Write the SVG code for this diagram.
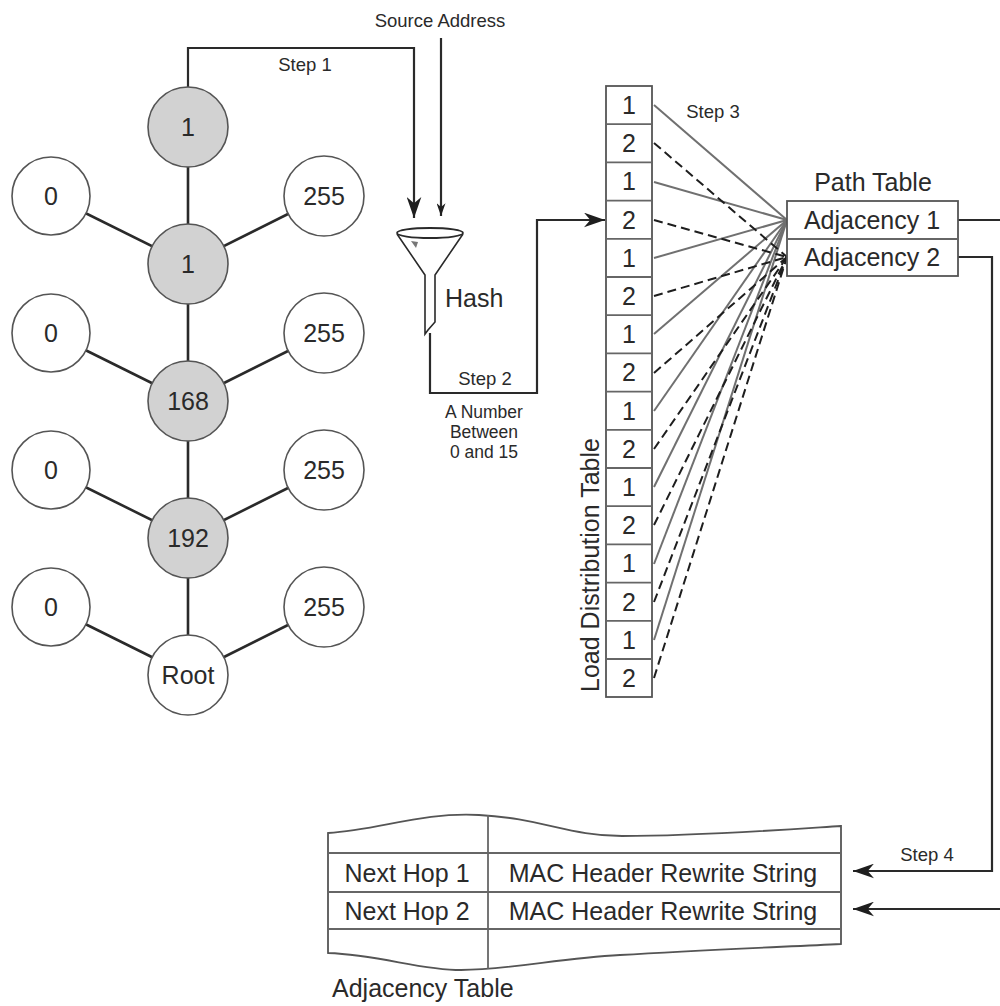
<svg xmlns="http://www.w3.org/2000/svg" width="1000" height="1006" viewBox="0 0 1000 1006">
<style>
text{font-family:"Liberation Sans",Arial,sans-serif;fill:#2a2a2a}
.big{font-size:25px}
.small{font-size:18.5px}
.note{font-size:17.5px}
.mid{text-anchor:middle}
.gray{fill:#d2d2d2;stroke:#555;stroke-width:1.6}
.white{fill:#fff;stroke:#555;stroke-width:1.6}
.tree{stroke:#2a2a2a;stroke-width:2.6;fill:none}
.wire{stroke:#2a2a2a;stroke-width:2.2;fill:none}
.solid{stroke:#707070;stroke-width:2;fill:none}
.dash{stroke:#1e1e1e;stroke-width:2;stroke-dasharray:9 5;fill:none}
.tbl{fill:#fff;stroke:#555;stroke-width:1.8}
.rule{stroke:#666;stroke-width:1.8;fill:none}
</style>
<defs>
<marker id="arr" viewBox="0 0 20 14" refX="20" refY="7" markerWidth="21" markerHeight="15" markerUnits="userSpaceOnUse" orient="auto">
<path d="M0,0 L20,7 L0,14 L6,7 Z" fill="#1e1e1e"/>
</marker>
<marker id="arrs" viewBox="0 0 20 14" refX="20" refY="7" markerWidth="13" markerHeight="9" markerUnits="userSpaceOnUse" orient="auto">
<path d="M0,0 L20,7 L0,14 L6,7 Z" fill="#1e1e1e"/>
</marker>
</defs>
<rect width="1000" height="1006" fill="#fff"/>

<g id="connectors">
<line class="tree" x1="188" y1="127" x2="188" y2="675"/>
<line class="tree" x1="51" y1="196" x2="188" y2="264"/>
<line class="tree" x1="324" y1="196" x2="188" y2="264"/>
<line class="tree" x1="51" y1="333" x2="188" y2="401"/>
<line class="tree" x1="324" y1="333" x2="188" y2="401"/>
<line class="tree" x1="51" y1="470" x2="188" y2="538"/>
<line class="tree" x1="324" y1="470" x2="188" y2="538"/>
<line class="tree" x1="51" y1="607" x2="188" y2="675"/>
<line class="tree" x1="324" y1="607" x2="188" y2="675"/>
<path class="wire" d="M188,87 L188,48 L414,48 L414,218" marker-end="url(#arr)"/>
<path class="wire" d="M441,38 L441,216" stroke-width="1.6" marker-end="url(#arrs)"/>
<path class="wire" d="M430,333 L430,393 L537,393 L537,220 L605,220" marker-end="url(#arr)"/>
<line class="solid" x1="654" y1="105" x2="787" y2="220"/>
<line class="solid" x1="654" y1="182" x2="787" y2="220"/>
<line class="solid" x1="654" y1="258" x2="787" y2="220"/>
<line class="solid" x1="654" y1="334" x2="787" y2="220"/>
<line class="solid" x1="654" y1="411" x2="787" y2="220"/>
<line class="solid" x1="654" y1="487" x2="787" y2="220"/>
<line class="solid" x1="654" y1="564" x2="787" y2="220"/>
<line class="solid" x1="654" y1="640" x2="787" y2="220"/>
<line class="dash" x1="654" y1="143" x2="787" y2="257"/>
<line class="dash" x1="654" y1="220" x2="787" y2="257"/>
<line class="dash" x1="654" y1="296" x2="787" y2="257"/>
<line class="dash" x1="654" y1="373" x2="787" y2="257"/>
<line class="dash" x1="654" y1="449" x2="787" y2="257"/>
<line class="dash" x1="654" y1="525" x2="787" y2="257"/>
<line class="dash" x1="654" y1="602" x2="787" y2="257"/>
<line class="dash" x1="654" y1="678" x2="787" y2="257"/>
<path class="wire" d="M958,220 L1002,220"/>
<path class="wire" d="M958,257 L992,257 L992,871 L853,871" marker-end="url(#arr)"/>
<path class="wire" d="M1002,909 L853,909" marker-end="url(#arr)"/>
</g>

<g id="labels">
<text class="small mid" x="440" y="27">Source Address</text>
<text class="small mid" x="305" y="71">Step 1</text>
<text class="small mid" x="485" y="385">Step 2</text>
<text class="note mid" x="484" y="418">A Number</text>
<text class="note mid" x="484" y="438">Between</text>
<text class="note mid" x="484" y="458">0 and 15</text>
<text class="small mid" x="713" y="118">Step 3</text>
<text class="small mid" x="927" y="861">Step 4</text>
</g>

<g id="node-top1"><circle class="gray" cx="188" cy="127" r="40"/><text class="big mid" x="188" y="136">1</text></g>
<g id="node-l1"><circle class="white" cx="51" cy="196" r="39"/><text class="big mid" x="51" y="205">0</text></g>
<g id="node-r1"><circle class="white" cx="324" cy="196" r="40"/><text class="big mid" x="324" y="205">255</text></g>
<g id="node-1"><circle class="gray" cx="188" cy="264" r="40"/><text class="big mid" x="188" y="273">1</text></g>
<g id="node-l2"><circle class="white" cx="51" cy="333" r="39"/><text class="big mid" x="51" y="342">0</text></g>
<g id="node-r2"><circle class="white" cx="324" cy="333" r="40"/><text class="big mid" x="324" y="342">255</text></g>
<g id="node-168"><circle class="gray" cx="188" cy="401" r="40"/><text class="big mid" x="188" y="410">168</text></g>
<g id="node-l3"><circle class="white" cx="51" cy="470" r="39"/><text class="big mid" x="51" y="479">0</text></g>
<g id="node-r3"><circle class="white" cx="324" cy="470" r="40"/><text class="big mid" x="324" y="479">255</text></g>
<g id="node-192"><circle class="gray" cx="188" cy="538" r="40"/><text class="big mid" x="188" y="547">192</text></g>
<g id="node-l4"><circle class="white" cx="51" cy="607" r="39"/><text class="big mid" x="51" y="616">0</text></g>
<g id="node-r4"><circle class="white" cx="324" cy="607" r="40"/><text class="big mid" x="324" y="616">255</text></g>
<g id="node-root"><circle class="white" cx="188" cy="675" r="40"/><text class="big mid" x="188" y="684">Root</text></g>

<g id="hash">
<path d="M397,234 L425,275 L425,334 L428,330 L435,322 L435,275 L463,234" fill="#fff" stroke="#2a2a2a" stroke-width="1.6"/>
<ellipse cx="430" cy="233" rx="33" ry="5" fill="#fff" stroke="#2a2a2a" stroke-width="1.8"/>
<polygon points="411,241 418,242 416,248" fill="#777"/>
<text class="big" x="445" y="307">Hash</text>
</g>

<g id="load-distribution-table">
<rect class="tbl" x="606" y="86" width="46" height="611"/>
<path class="rule" d="M606,124.2H652M606,162.4H652M606,200.6H652M606,238.8H652M606,277H652M606,315.2H652M606,353.4H652M606,391.6H652M606,429.8H652M606,468H652M606,506.2H652M606,544.4H652M606,582.6H652M606,620.8H652M606,659H652"/>
<text class="big mid" x="629" y="114">1</text>
<text class="big mid" x="629" y="152">2</text>
<text class="big mid" x="629" y="190">1</text>
<text class="big mid" x="629" y="229">2</text>
<text class="big mid" x="629" y="267">1</text>
<text class="big mid" x="629" y="305">2</text>
<text class="big mid" x="629" y="343">1</text>
<text class="big mid" x="629" y="381">2</text>
<text class="big mid" x="629" y="420">1</text>
<text class="big mid" x="629" y="458">2</text>
<text class="big mid" x="629" y="496">1</text>
<text class="big mid" x="629" y="534">2</text>
<text class="big mid" x="629" y="572">1</text>
<text class="big mid" x="629" y="611">2</text>
<text class="big mid" x="629" y="649">1</text>
<text class="big mid" x="629" y="687">2</text>
<text class="big mid" transform="translate(599,565) rotate(-90)">Load Distribution Table</text>
</g>

<g id="path-table">
<rect class="tbl" x="787" y="201" width="171" height="75"/>
<line class="rule" x1="787" y1="239" x2="958" y2="239"/>
<text class="big mid" x="873" y="191">Path Table</text>
<text class="big mid" x="872" y="229">Adjacency 1</text>
<text class="big mid" x="872" y="266">Adjacency 2</text>
</g>

<g id="adjacency-table">
<path class="tbl" d="M328,833 C380,830 420,812 479,815 C540,818 570,836 622,836 C700,836 780,830 841,826 L841,944 C780,947 700,950 620,955 C560,958 510,970 461,970 C420,970 380,955 328,953 Z"/>
<path class="rule" d="M328,853H841M328,892H841M328,929H841"/>
<line class="rule" x1="488" y1="815" x2="488" y2="969"/>
<text class="big mid" x="407" y="882">Next Hop 1</text>
<text class="big mid" x="407" y="920">Next Hop 2</text>
<text class="big mid" x="663" y="882">MAC Header Rewrite String</text>
<text class="big mid" x="663" y="920">MAC Header Rewrite String</text>
<text class="big" x="332" y="997">Adjacency Table</text>
</g>
</svg>
